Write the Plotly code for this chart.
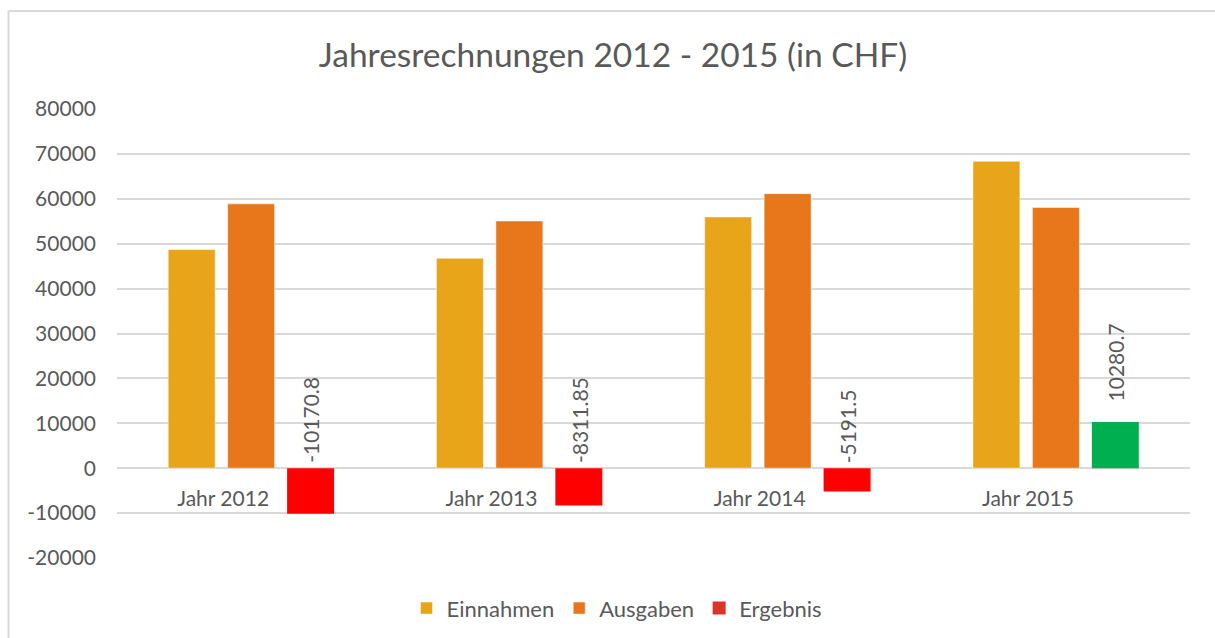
import plotly.graph_objects as go

categories = ["Jahr 2012", "Jahr 2013", "Jahr 2014", "Jahr 2015"]
einnahmen = [48700, 46750, 55950, 68350]
ausgaben = [58870.8, 55061.85, 61141.5, 58069.3]
ergebnis = [-10170.8, -8311.85, -5191.5, 10280.7]
y_ticks = list(range(-20000, 80001, 10000))

C_EIN = "#E9A519"
C_AUS = "#E7771A"
C_NEG = "#FF0000"
C_POS = "#00B050"
C_LEG_ERG = "#DA3328"
TXT = "#595959"
GRID = "#D9D9D9"
FONT = "Lato, Open Sans, sans-serif"

fig = go.Figure()
fig.add_trace(go.Bar(name="Einnahmen", x=categories, y=einnahmen,
                     marker=dict(color=C_EIN, line=dict(color="rgba(255,255,255,0.5)", width=1))))
fig.add_trace(go.Bar(name="Ausgaben", x=categories, y=ausgaben,
                     marker=dict(color=C_AUS, line=dict(color="rgba(255,255,255,0.5)", width=1))))
fig.add_trace(go.Bar(name="Ergebnis", x=categories, y=ergebnis, showlegend=False,
                     marker=dict(color=[C_POS if v >= 0 else C_NEG for v in ergebnis], line=dict(width=0))))
# legend entry for Ergebnis
fig.add_trace(go.Scatter(name="Ergebnis", x=[None], y=[None], mode="markers",
                         marker=dict(symbol="square", size=13, color=C_LEG_ERG)))

annotations = []
for c, v in zip(categories, ergebnis):
    annotations.append(dict(x=c, y=max(v, 0), text=("%g" % v), textangle=-90,
                            showarrow=False, xanchor="center", yanchor="bottom",
                            xshift=59.5, yshift=(19 if v >= 0 else 3),
                            font=dict(size=21, color=TXT, family=FONT)))

# outer frame lines (top and left)
shapes = [
    dict(type="line", xref="paper", yref="paper", x0=-0.1011, x1=1.04, y0=1.2184, y1=1.2184,
         line=dict(color=GRID, width=2)),
    dict(type="line", xref="paper", yref="paper", x0=-0.1011, x1=-0.1011, y0=-0.25, y1=1.2184,
         line=dict(color=GRID, width=2)),
]

fig.update_layout(
    width=1215, height=638,
    margin=dict(l=117, r=25, t=109, b=80, autoexpand=False),
    paper_bgcolor="white", plot_bgcolor="white",
    barmode="group", bargap=0.335, bargroupgap=0.21,
    title=dict(text="Jahresrechnungen 2012 - 2015 (in CHF)", x=0.5045, xanchor="center",
               y=0.913, yanchor="middle", font=dict(size=33.5, color=TXT, family=FONT)),
    font=dict(family=FONT, color=TXT, size=21),
    legend=dict(orientation="h", x=0.466, xanchor="center", y=-0.112, yanchor="middle",
                font=dict(size=22, color=TXT, family=FONT), traceorder="normal"),
    annotations=annotations,
    shapes=shapes,
    xaxis=dict(anchor="free", position=0.2, showgrid=False, showline=False, ticks="",
               ticklabelshift=-28, ticklabelstandoff=16, automargin=False,
               tickfont=dict(size=21, color=TXT, family=FONT), zeroline=False),
    yaxis=dict(range=[-20000, 80000], tickvals=y_ticks, ticktext=[str(v) for v in y_ticks],
               showgrid=True, gridcolor=GRID, gridwidth=2, zeroline=False, showline=False,
               ticks="", ticklabelstandoff=20, automargin=False,
               tickfont=dict(size=21, color=TXT, family=FONT)),
)

fig.write_html("out.html", config={"displayModeBar": False},
               post_script="document.body.style.margin='0';")
